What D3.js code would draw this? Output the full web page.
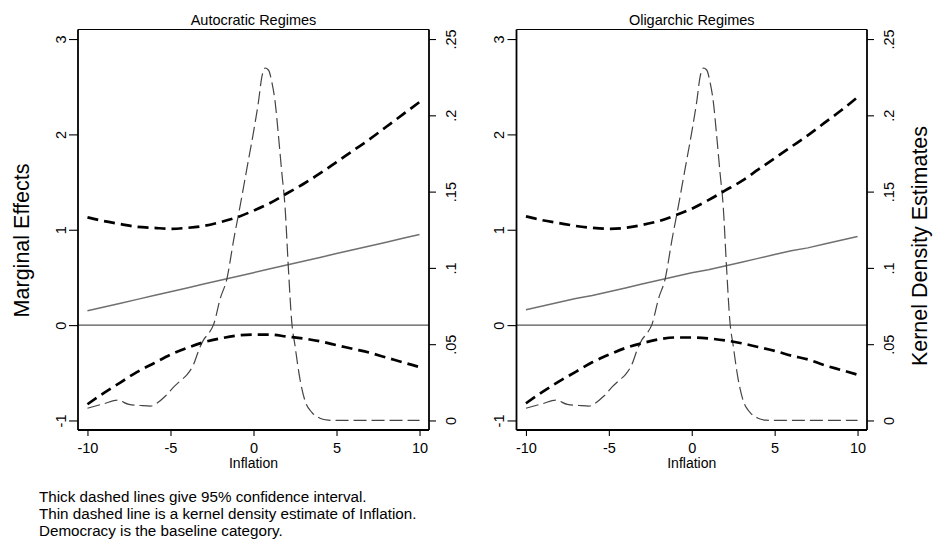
<!DOCTYPE html>
<html>
<head>
<meta charset="utf-8">
<script src="https://cdn.jsdelivr.net/npm/d3@7"></script>
<style>
  html, body { margin: 0; padding: 0; background: #fff; }
  svg { display: block; font-family: "Liberation Sans", Arial, Helvetica, sans-serif; }
</style>
</head>
<body>
<svg id="chart" width="935" height="540"></svg>
<script>
// ---------- data ----------
const inflation = [-10,-9,-8,-7,-6,-5,-4,-3,-2,-1,0,1,2,3,4,5,6,7,8,9,10];

const autoME    = [0.15,0.19,0.23,0.27,0.31,0.35,0.39,0.43,0.47,0.51,0.55,0.59,0.63,0.67,0.71,0.75,0.79,0.83,0.87,0.91,0.95];
const autoUpper = [1.13,1.09,1.06,1.03,1.02,1.01,1.02,1.04,1.08,1.13,1.20,1.28,1.38,1.48,1.59,1.71,1.83,1.95,2.08,2.21,2.34];
const autoLower = [-0.83,-0.71,-0.60,-0.49,-0.40,-0.31,-0.24,-0.18,-0.14,-0.11,-0.10,-0.10,-0.12,-0.14,-0.17,-0.21,-0.25,-0.29,-0.34,-0.39,-0.44];

const oligME    = [0.16,0.20,0.24,0.28,0.31,0.35,0.39,0.43,0.47,0.51,0.55,0.58,0.62,0.66,0.70,0.74,0.78,0.81,0.85,0.89,0.93];
const oligUpper = [1.14,1.10,1.07,1.04,1.02,1.01,1.02,1.05,1.09,1.15,1.22,1.31,1.41,1.51,1.63,1.75,1.87,1.99,2.12,2.25,2.39];
const oligLower = [-0.82,-0.70,-0.59,-0.49,-0.39,-0.31,-0.24,-0.19,-0.15,-0.13,-0.13,-0.14,-0.16,-0.19,-0.23,-0.27,-0.32,-0.36,-0.42,-0.47,-0.52];

const densX = [-10,-9,-8.2,-7.5,-6.8,-6.2,-5.8,-5.3,-4.8,-4.3,-4,-3.6,-3.3,-3,-2.7,-2.4,-2,-1.6,-1.2,-0.8,-0.4,0,0.3,0.5,0.7,0.9,1.1,1.3,1.5,1.7,1.9,2.1,2.3,2.5,2.8,3.1,3.5,4,4.5,5,7.5,10];
const densY = [0.008,0.011,0.0133,0.0105,0.0098,0.0094,0.0115,0.016,0.022,0.027,0.030,0.037,0.046,0.053,0.057,0.063,0.080,0.093,0.118,0.141,0.165,0.189,0.209,0.225,0.231,0.2297,0.222,0.209,0.187,0.163,0.140,0.100,0.065,0.049,0.027,0.013,0.0055,0.0015,0.0002,0,0,0];

const panelTitles = ["Autocratic Regimes", "Oligarchic Regimes"];
const xTicks = [-10,-5,0,5,10];
const yTicks = [-1,0,1,2,3];
const densTicks = [0,0.05,0.1,0.15,0.2,0.25];
const densTickLabels = ["0",".05",".1",".15",".2",".25"];
const notes = [
  "Thick dashed lines give 95% confidence interval.",
  "Thin dashed line is a kernel density estimate of Inflation.",
  "Democracy is the baseline category."
];
const panels = [
  { title: panelTitles[0], me: autoME, up: autoUpper, lo: autoLower },
  { title: panelTitles[1], me: oligME, up: oligUpper, lo: oligLower }
];

// ---------- layout ----------
const svg = d3.select("#chart");
svg.append("rect").attr("width",935).attr("height",540).attr("fill","#fff");

const plotTop = 29.5, plotBottom = 430;
const boxes = [{l:78, r:429}, {l:516.5, r:867}];
const FONT_T = 14.5;

const y = d3.scaleLinear().domain([-1.1, 3.1]).range([plotBottom, plotTop]);
const yD = d3.scaleLinear().domain([0, 0.25]).range([y(-1), y(3)]);

panels.forEach((p, i) => {
  const b = boxes[i];
  const x = d3.scaleLinear().domain([-10.57, 10.57]).range([b.l, b.r]);
  const g = svg.append("g");

  const cid = "clip" + i;
  svg.append("clipPath").attr("id", cid).append("rect")
    .attr("x", b.l).attr("y", plotTop).attr("width", b.r - b.l).attr("height", plotBottom - plotTop);
  const pg = g.append("g").attr("clip-path", `url(#${cid})`);

  // zero line
  pg.append("line").attr("x1", b.l).attr("x2", b.r).attr("y1", y(0)).attr("y2", y(0))
    .attr("stroke", "#555").attr("stroke-width", 1.3);

  const line = d3.line().x((d) => x(d[0])).y((d) => y(d[1])).curve(d3.curveMonotoneX);
  const lin = d3.line().x((d) => x(d[0])).y((d) => y(d[1]));
  const pts = (arr) => inflation.map((v, k) => [v, arr[k]]);

  // marginal effect
  pg.append("path").attr("d", lin(pts(p.me))).attr("fill","none")
    .attr("stroke","#707070").attr("stroke-width",1.5);

  // density
  const dline = d3.line().x((d) => x(d[0])).y((d) => yD(d[1])).curve(d3.curveMonotoneX);
  pg.append("path").attr("d", dline(densX.map((v,k)=>[v, densY[k]]))).attr("fill","none")
    .attr("stroke","#444").attr("stroke-width",1.2).attr("stroke-dasharray","13,5");

  // CI
  [p.up, p.lo].forEach(arr => {
    pg.append("path").attr("d", line(pts(arr))).attr("fill","none")
      .attr("stroke","#000").attr("stroke-width",2.7).attr("stroke-dasharray","11,6");
  });

  // top frame
  g.append("line").attr("x1", b.l).attr("x2", b.r).attr("y1", plotTop).attr("y2", plotTop)
    .attr("stroke","#000").attr("stroke-width",1);

  // left axis
  const ax = d3.axisLeft(y).tickValues(yTicks).tickSize(9).tickFormat(d => String(d));
  const ag = g.append("g").attr("transform", `translate(${b.l},0)`).call(ax);
  ag.select(".domain").attr("stroke-width",1.8).attr("d", `M0,${plotTop}V${plotBottom}`);
  ag.selectAll(".tick line").attr("stroke-width",1.1);
  ag.selectAll(".tick text").attr("x",null).attr("dy",null).attr("y",null)
    .attr("text-anchor","middle").attr("transform","translate(-12.5,0) rotate(-90)")
    .attr("font-size",FONT_T).attr("fill","#000");

  // right axis (density)
  const axr = d3.axisRight(yD).tickValues(densTicks).tickSize(7).tickFormat((d,k)=>densTickLabels[k]);
  const arg = g.append("g").attr("transform", `translate(${b.r},0)`).call(axr);
  arg.select(".domain").attr("stroke-width",1.8).attr("d", `M0,${plotTop}V${plotBottom}`);
  arg.selectAll(".tick line").attr("stroke-width",1.1);
  arg.selectAll(".tick text").attr("x",null).attr("dy",null).attr("y",null)
    .attr("text-anchor","middle").attr("transform","translate(26.5,0) rotate(-90)")
    .attr("font-size",FONT_T).attr("fill","#000");

  // bottom axis
  const axb = d3.axisBottom(x).tickValues(xTicks).tickSize(6).tickFormat(d => String(d));
  const abg = g.append("g").attr("transform", `translate(0,${plotBottom})`).call(axb);
  abg.select(".domain").attr("stroke-width",1.8).attr("d", `M${b.l},0H${b.r}`);
  abg.selectAll(".tick line").attr("stroke-width",1.1);
  abg.selectAll(".tick text").attr("dy",null).attr("y",23)
    .attr("font-size",FONT_T).attr("fill","#000");

  [ag, arg, abg].forEach(a => a.attr("font-family", null).attr("font-size", null));

  // x title
  g.append("text").attr("x", x(0)).attr("y", 468).attr("text-anchor","middle")
    .attr("font-size",14).text("Inflation");

  // panel title
  g.append("text").attr("x", (b.l + b.r)/2).attr("y", 25).attr("text-anchor","middle")
    .attr("font-size",14.5).text(p.title);
});

// axis titles
svg.append("text").attr("transform","translate(28.5,240.5) rotate(-90)").attr("text-anchor","middle")
  .attr("font-size",21.5).text("Marginal Effects");
svg.append("text").attr("transform","translate(927,246) rotate(-90)").attr("text-anchor","middle")
  .attr("font-size",21.5).text("Kernel Density Estimates");

// notes
notes.forEach((t, k) => {
  svg.append("text").attr("x", 39).attr("y", 502 + k*17).attr("font-size",15.2).text(t);
});
</script>
</body>
</html>
